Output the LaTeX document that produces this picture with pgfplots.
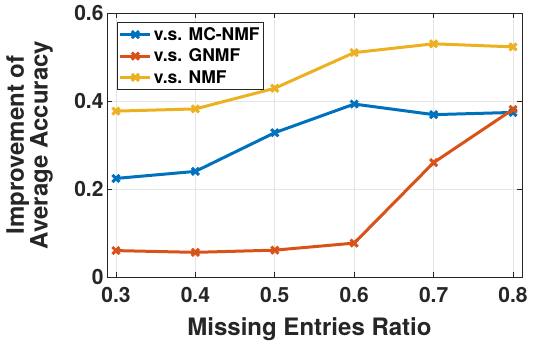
\documentclass[border=0pt]{standalone}
\usepackage{pgfplots}
\pgfplotsset{compat=1.18}
\usepackage{fontspec}
\setmainfont{TeX Gyre Heros}
\definecolor{mblue}{rgb}{0,0.447,0.741}
\definecolor{mred}{rgb}{0.85,0.325,0.098}
\definecolor{myellow}{rgb}{0.929,0.694,0.125}
\definecolor{axgray}{rgb}{0.15,0.15,0.15}
\begin{document}
\begin{tikzpicture}
\begin{axis}[
  name=ax,
  scale only axis,
  width=415pt, height=264pt,
  xmin=0.2887, xmax=0.8113,
  ymin=0, ymax=0.6,
  xtick={0.3,0.4,0.5,0.6,0.7,0.8},
  ytick={0,0.2,0.4,0.6},
  xticklabels={0.3,0.4,0.5,0.6,0.7,0.8},
  yticklabels={0,0.2,0.4,0.6},
  /pgf/number format/assume math mode=true,
  tick align=inside,
  tick pos=both,
  major tick length=5pt,
  axis line style={axgray, line width=0.8pt},
  every tick/.style={axgray, line width=0.8pt},
  grid=major,
  major grid style={gray!20, line width=0.6pt},
  ticklabel style={font=\fontsize{21}{24}\selectfont\bfseries, text=axgray},
  xticklabel style={yshift=-7pt},
  xlabel={Missing Entries Ratio},
  ylabel={Improvement of\\Average Accuracy},
  every axis y label/.style={at={([xshift=-54pt]rel axis cs:0,0.5)}, rotate=90, anchor=south, inner sep=0pt,
    align=center, font=\fontsize{24}{22}\selectfont\bfseries, text=axgray},
  every axis x label/.style={at={([xshift=-5pt,yshift=-40pt]rel axis cs:0.5,0)}, anchor=north, inner sep=0pt,
    font=\fontsize{24}{26}\selectfont\bfseries, text=axgray},
  legend style={at={(0,1)}, anchor=north west, xshift=10pt, yshift=-9pt,
    font=\fontsize{17.5}{20}\selectfont\bfseries, draw=axgray, line width=0.8pt,
    inner xsep=1.5pt, inner ysep=3pt, row sep=3pt, text=black},
  legend cell align=left,
  legend image code/.code={\draw[#1, line width=3pt] (0pt,0pt) -- (30pt,0pt); \draw[#1, line width=3pt, mark repeat=2, mark phase=2] plot coordinates {(0pt,0pt) (15pt,0pt) (30pt,0pt)};},
]
\addplot[color=mblue, line width=3pt, mark=x, mark size=5pt, mark options={line width=3pt, solid}] coordinates {(0.3,0.224) (0.4,0.240) (0.5,0.328) (0.6,0.393) (0.7,0.369) (0.8,0.374)};
\addlegendentry{v.s. MC-NMF}
\addplot[color=mred, line width=3pt, mark=x, mark size=5pt, mark options={line width=3pt, solid}] coordinates {(0.3,0.060) (0.4,0.056) (0.5,0.061) (0.6,0.077) (0.7,0.260) (0.8,0.381)};
\addlegendentry{v.s. GNMF}
\addplot[color=myellow, line width=3pt, mark=x, mark size=5pt, mark options={line width=3pt, solid}] coordinates {(0.3,0.377) (0.4,0.382) (0.5,0.429) (0.6,0.510) (0.7,0.530) (0.8,0.523)};
\addlegendentry{v.s. NMF}
\end{axis}
\pgfresetboundingbox
\path ([shift={(-107pt,-75pt)}]ax.south west) rectangle ([shift={(12pt,13pt)}]ax.north east);
\end{tikzpicture}
\end{document}
